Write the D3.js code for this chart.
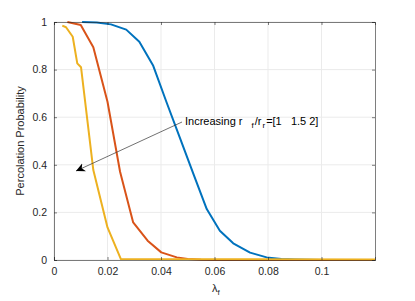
<!DOCTYPE html>
<html>
<head>
<meta charset="utf-8">
<script src="https://cdn.jsdelivr.net/npm/d3@7"></script>
<style>
  body { margin: 0; background: #fff; }
  svg { font-family: "Liberation Sans", Arial, sans-serif; }
</style>
</head>
<body>
<svg></svg>
<script>
// ratio r_f/r_r = 1, 1.5, 2
var blueX = [0.0105, 0.016, 0.0213, 0.027, 0.0319, 0.0371, 0.042, 0.047, 0.052, 0.0571, 0.062, 0.067, 0.0733, 0.0795, 0.085, 0.09, 0.095, 0.1, 0.12];
var blueY = [1.0, 0.998, 0.99, 0.968, 0.917, 0.816, 0.665, 0.515, 0.365, 0.214, 0.123, 0.07, 0.031, 0.011, 0.004, 0.002, 0.001, 0.0, 0.0];

var orangeX = [0.005, 0.01, 0.0147, 0.02, 0.0247, 0.0296, 0.035, 0.0401, 0.0459, 0.05, 0.055, 0.06, 0.12];
var orangeY = [1.0, 0.987, 0.894, 0.665, 0.371, 0.158, 0.081, 0.032, 0.011, 0.004, 0.001, 0.0, 0.0];

var yellowX = [0.0031, 0.0045, 0.007, 0.0087, 0.0101, 0.0147, 0.02, 0.025, 0.12];
var yellowY = [0.985, 0.978, 0.938, 0.826, 0.81, 0.378, 0.137, 0.004, 0.002];

var xTicks = [0, 0.02, 0.04, 0.06, 0.08, 0.1];
var yTicks = [0, 0.2, 0.4, 0.6, 0.8, 1];

var width = 415, height = 301;
var svg = d3.select('svg')
   .attr('width', width)
   .attr('height', height);

var x = d3.scaleLinear().domain([0, 0.12]).range([54, 375]);
var y = d3.scaleLinear().domain([0, 1]).range([260, 22]);

// grid
svg.append('g')
   .selectAll('line')
   .data(xTicks)
   .enter()
   .append('line')
   .attr('x1', (d) => x(d)).attr('x2', (d) => x(d))
   .attr('y1', y(0)).attr('y2', y(1))
   .attr('stroke', '#ebebeb');

svg.append('g')
   .selectAll('line')
   .data(yTicks)
   .enter()
   .append('line')
   .attr('y1', (d) => y(d)).attr('y2', (d) => y(d))
   .attr('x1', x(0)).attr('x2', x(0.12))
   .attr('stroke', '#ebebeb');

var series = [
   { xs: blueX, ys: blueY, color: '#0072BD' },
   { xs: orangeX, ys: orangeY, color: '#D95319' },
   { xs: yellowX, ys: yellowY, color: '#EDB120' }
];

var line = d3.line()
   .x((d) => x(d[0]))
   .y((d) => y(d[1]));

svg.append('g')
   .selectAll('path')
   .data(series)
   .enter()
   .append('path')
   .attr('d', (s) => line(d3.zip(s.xs, s.ys)))
   .attr('fill', 'none')
   .attr('stroke', (s) => s.color)
   .attr('stroke-width', 2)
   .attr('stroke-linejoin', 'round');

// axes
var fmt = (d) => d === 0 ? '0' : d3.format('~g')(d);

var axisColor = '#262626';
var gx = svg.append('g')
   .attr('transform', 'translate(0,' + y(0) + ')')
   .call(d3.axisBottom(x).tickValues(xTicks).tickSize(-3).tickPadding(8).tickFormat(fmt));
var gxTop = svg.append('g')
   .attr('transform', 'translate(0,' + y(1) + ')')
   .call(d3.axisTop(x).tickValues(xTicks).tickSize(-3).tickFormat(''));
var gy = svg.append('g')
   .attr('transform', 'translate(' + x(0) + ',0)')
   .call(d3.axisLeft(y).tickValues(yTicks).tickSize(-3).tickPadding(7).tickFormat(fmt));
var gyRight = svg.append('g')
   .attr('transform', 'translate(' + x(0.12) + ',0)')
   .call(d3.axisRight(y).tickValues(yTicks).tickSize(-3).tickFormat(''));

[gx, gxTop, gy, gyRight].forEach((g) => {
   g.select('.domain').attr('stroke', axisColor).attr('stroke-width', 0.6);
   g.selectAll('.tick line').attr('stroke', axisColor).attr('stroke-width', 0.6);
   g.selectAll('text').attr('fill', axisColor).attr('font-size', 10.5)
      .attr('font-family', '"Liberation Sans", Arial, sans-serif');
});

// labels
svg.append('text')
   .attr('transform', 'translate(24,' + ((y(0) + y(1)) / 2) + ') rotate(-90)')
   .attr('text-anchor', 'middle')
   .attr('fill', axisColor)
   .attr('font-size', 11)
   .text('Percolation Probability');

var xl = svg.append('text')
   .attr('x', 212)
   .attr('y', 292)
   .attr('fill', axisColor)
   .attr('font-size', 11);
xl.append('tspan').text('λ');
xl.append('tspan').attr('font-size', 8).attr('dy', 3).text('f');

// annotation
var ann = svg.append('text')
   .attr('x', 185)
   .attr('y', 125)
   .attr('fill', '#000')
   .attr('font-size', 11)
   .style('white-space', 'pre');
ann.append('tspan').text('Increasing r');
ann.append('tspan').attr('dx', 9).attr('dy', 3).attr('font-size', 8).text('f');
ann.append('tspan').attr('dx', 1).attr('dy', -3).text('/r');
ann.append('tspan').attr('dx', 1).attr('dy', 3).attr('font-size', 8).text('r');
ann.append('tspan').attr('dx', 1).attr('dy', -3).text('=[1   1.5 2]');

svg.append('defs').append('marker')
   .attr('id', 'head')
   .attr('viewBox', '0 0 10 10')
   .attr('refX', 10).attr('refY', 5)
   .attr('markerWidth', 9).attr('markerHeight', 9)
   .attr('markerUnits', 'userSpaceOnUse')
   .attr('orient', 'auto')
   .append('path')
   .attr('d', 'M0,0 L10,5 L0,10 L3,5 Z')
   .attr('fill', '#000');

svg.append('line')
   .attr('x1', 182).attr('y1', 122)
   .attr('x2', 76).attr('y2', 171)
   .attr('stroke', '#333')
   .attr('stroke-width', 0.7)
   .attr('marker-end', 'url(#head)');
</script>
</body>
</html>
